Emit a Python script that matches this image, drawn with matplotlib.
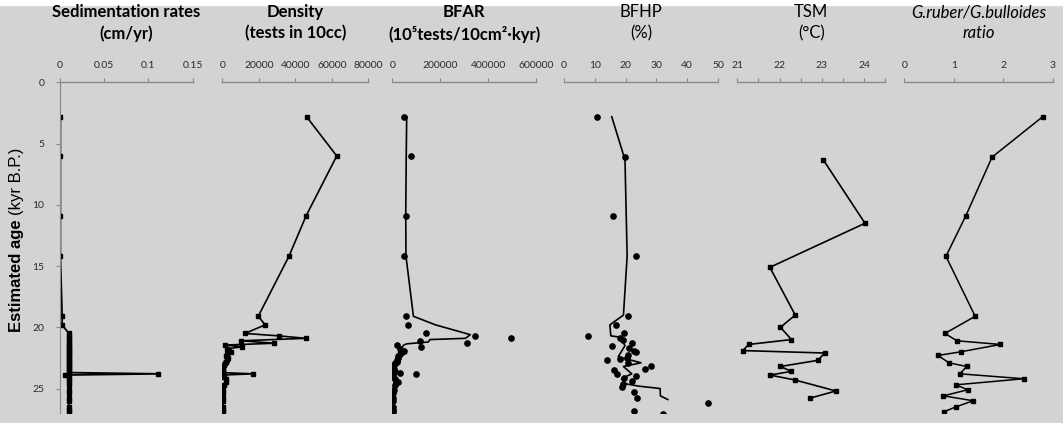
import matplotlib.pyplot as plt
from matplotlib.patches import Rectangle
from matplotlib.ticker import MultipleLocator

# sample ages (kyr B.P.) shared by the sedimentation / density / BFAR columns
ages_full = [2.8, 6.0, 10.9, 14.2, 19.1, 19.8, 20.5, 20.7, 20.9, 21.1, 21.3, 21.45,
             21.6, 21.75, 21.9, 22.05, 22.2, 22.35, 22.5, 22.65, 22.8, 22.95, 23.1,
             23.25, 23.4, 23.55, 23.7, 23.8, 23.9, 24.05, 24.25, 24.5, 24.75, 25.1,
             25.4, 25.8, 26.05, 26.5, 26.75, 26.95]

sed_rate = [0.001, 0.001, 0.001, 0.001, 0.003, 0.003, 0.0105, 0.0105, 0.0105, 0.0105,
            0.0105, 0.0105, 0.0105, 0.0105, 0.0105, 0.0105, 0.0105, 0.0105, 0.0105,
            0.0105, 0.0105, 0.0105, 0.0105, 0.0105, 0.0105, 0.0105, 0.0105, 0.111,
            0.0065, 0.0105, 0.0105, 0.0105, 0.0105, 0.0105, 0.0105, 0.0105, 0.0105,
            0.0105, 0.0105, 0.0105]

density = [46200, 62700, 45900, 36500, 19700, 23500, 12400, 31000, 45800, 10400,
           28400, 1500, 10900, 2400, 3500, 4700, 2800, 2100, 3000, 2500, 2100, 1500,
           1000, 600, 400, 300, 400, 16600, 300, 800, 1900, 2300, 900, 500, 600, 400,
           500, 400, 300, 400]

bfar = [47500, 79200, 57100, 47500, 57100, 65400, 141700, 343300, 495800, 116700,
        311300, 19600, 120800, 32100, 50000, 42000, 30000, 25000, 22500, 20000, 18300,
        12000, 6000, 4200, 6000, 8300, 32100, 100000, 3000, 1700, 12000, 23800, 12500,
        8300, 3000, 1500, 1500, 1500, 1500, 1500]

# BFAR running mean line
bfar_line_age = [2.8, 6.1, 10.9, 14.2, 19.1, 19.8, 20.6, 20.9, 21.0, 21.2, 21.35,
                 21.45, 21.8, 22.3, 22.8, 23.1, 23.5, 23.7, 23.8, 24.0, 24.4, 24.9]
bfar_line = [60000, 58000, 56000, 57000, 88000, 180000, 325000, 305000, 157000,
             150000, 60000, 48000, 32000, 25000, 15000, 12500, 15000, 36000, 20000,
             4200, 8300, 4200]

# BFHP
bfhp_age = [2.8, 6.1, 10.9, 14.2, 19.1, 19.8, 20.7, 20.5, 20.9, 21.0, 21.3, 21.5, 21.7,
            21.9, 22.0, 22.3, 22.5, 22.6, 22.7, 22.9, 23.2, 23.4, 23.5, 23.8, 24.0,
            24.1, 24.4, 24.6, 24.9, 25.3, 25.8, 26.2, 26.8, 27.1]
bfhp = [10.8, 19.8, 15.8, 23.3, 20.8, 16.8, 7.8, 19.6, 18.1, 19.2, 22.1, 15.6, 21.0,
        22.8, 23.4, 20.7, 20.4, 18.3, 13.9, 20.7, 28.4, 26.3, 16.3, 17.1, 23.4, 19.6,
        22.1, 19.0, 18.7, 22.6, 23.8, 46.8, 22.6, 32.0]
bfhp_line_age = [2.8, 5.9, 6.3, 14.2, 19.0, 19.8, 20.7, 20.8, 21.5, 22.4, 22.9, 23.2,
                 23.8, 24.2, 24.6, 24.8, 25.0, 25.6, 25.9]
bfhp_line = [15.5, 19.3, 19.8, 20.5, 19.3, 14.9, 15.2, 18.2, 19.8, 17.6, 25.0, 19.3,
             22.0, 18.7, 19.8, 24.1, 31.2, 31.3, 33.7]

# TSM
tsm_age = [6.3, 11.5, 15.1, 19.0, 20.0, 21.0, 21.4, 21.9, 22.1, 22.7, 23.2, 23.6,
           23.9, 24.3, 25.2, 25.8]
tsm = [23.03, 24.02, 21.77, 22.37, 22.02, 22.28, 21.27, 21.13, 23.07, 22.90, 22.02,
       22.28, 21.77, 22.36, 23.33, 22.71]

# G.ruber / G.bulloides
ratio_age = [2.8, 6.1, 10.9, 14.2, 19.1, 20.5, 21.1, 21.4, 22.0, 22.3, 22.9, 23.2,
             23.8, 24.2, 24.7, 25.1, 25.6, 26.0, 26.5, 26.9]
ratio = [2.79, 1.77, 1.24, 0.84, 1.43, 0.82, 1.06, 1.94, 1.14, 0.68, 0.90, 1.26, 1.12,
         2.41, 1.04, 1.28, 0.79, 1.39, 1.04, 0.80]

W, H = 1063, 423
BG = '#d3d3d3'
GRAY = '#8a8a8a'
TXT = '#2b2b2b'
FONT = ['Lato', 'DejaVu Sans']

fig = plt.figure(figsize=(W / 100, H / 100), dpi=100)
fig.patch.set_facecolor(BG)
fig.patches.append(Rectangle((0, 1 - 5 / H), 1, 5 / H, transform=fig.transFigure,
                             color='white', zorder=0))

top_px, bot_px = 82.5, 413
ymax = 27.0


def make_axes(x0, x1, xlim, major, title, weight='bold', style='normal', minor=None):
    ax = fig.add_axes([x0 / W, 1 - bot_px / H, (x1 - x0) / W, (bot_px - top_px) / H])
    ax.set_facecolor('none')
    ax.set_xlim(*xlim)
    ax.set_ylim(ymax, 0)
    ax.xaxis.tick_top()
    ax.xaxis.set_major_locator(MultipleLocator(major))
    if minor:
        ax.xaxis.set_minor_locator(MultipleLocator(minor))
        ax.tick_params(axis='x', which='minor', direction='out', length=3, width=0.8,
                       color=GRAY, top=True, bottom=False)
    for s in ['bottom', 'right', 'left']:
        ax.spines[s].set_visible(False)
    ax.spines['top'].set_color(GRAY)
    ax.spines['top'].set_linewidth(1)
    ax.tick_params(axis='x', which='major', direction='out', length=3, width=0.8,
                   color=GRAY, labelsize=7.5, labelcolor=TXT, pad=6)
    ax.set_yticks([])
    for lab in ax.get_xticklabels():
        lab.set_family(FONT)
    fig.text((x0 + x1) / 2 / W, 1 - 4 / H, title, ha='center', va='top',
             fontsize=12, fontweight=weight, style=style, family=FONT,
             color='black', linespacing=1.4)
    return ax


def fmt(vals):
    return [('%g' % v) for v in vals]


# sedimentation rates
ax1 = make_axes(59.5, 192.7, (0, 0.15), 0.05, 'Sedimentation rates\n(cm/yr)')
ax1.set_xticks([0, 0.05, 0.1, 0.15])
ax1.set_xticklabels(fmt([0, 0.05, 0.1, 0.15]), family=FONT)
ax1.spines['left'].set_visible(True)
ax1.spines['left'].set_color(GRAY)
ax1.set_yticks([0, 5, 10, 15, 20, 25])
ax1.tick_params(axis='y', direction='out', length=3, width=0.8, color=GRAY,
                labelsize=7.5, labelcolor=TXT, pad=8)
for lab in ax1.get_yticklabels():
    lab.set_family(FONT)
ax1.plot(sed_rate, ages_full, color='black', lw=1.3, marker='s', ms=3.2)

# density
ax2 = make_axes(222.3, 368.3, (0, 80000), 20000, 'Density\n(tests in 10cc)')
ax2.plot(density, ages_full, color='black', lw=1.2, marker='s', ms=3.2)

# BFAR
ax3 = make_axes(392.3, 536.3, (0, 600000), 200000,
                'BFAR\n(10\u2075tests/10cm\u00b2\u00b7kyr)')
ax3.plot(bfar, ages_full, ls='none', marker='o', ms=3.8, color='black')
ax3.plot(bfar_line, bfar_line_age, color='black', lw=1.2)

# BFHP
ax4 = make_axes(564, 718, (0, 50), 10, 'BFHP\n(%)', weight='normal')
ax4.plot(bfhp, bfhp_age, ls='none', marker='o', ms=3.8, color='black')
ax4.plot(bfhp_line, bfhp_line_age, color='black', lw=1.2)

# TSM
ax5 = make_axes(737.3, 885.3, (21, 24.5), 1, 'TSM\n(\u00b0C)', weight='normal', minor=0.5)
ax5.plot(tsm, tsm_age, color='black', lw=1.2, marker='s', ms=3.2)

# ratio
ax6 = make_axes(904.3, 1053, (0, 3), 1, 'G.ruber/G.bulloides\nratio', weight='normal',
                style='italic')
ax6.plot(ratio, ratio_age, color='black', lw=1.1, marker='s', ms=3.2)

# y label, bold first part then regular
fig.canvas.draw()
t1 = fig.text(17 / W, 1 - 332 / H, 'Estimated age', rotation=90, ha='center',
              va='bottom', fontsize=12, fontweight='bold', family='Liberation Sans')
fig.canvas.draw()
bb = t1.get_window_extent()
fig.text(17 / W, (bb.y1 + 4) / H, '(kyr B.P.)', rotation=90, ha='center', va='bottom',
         fontsize=12, family='Liberation Sans')

fig.savefig('out.png', dpi=100, facecolor=fig.get_facecolor())
